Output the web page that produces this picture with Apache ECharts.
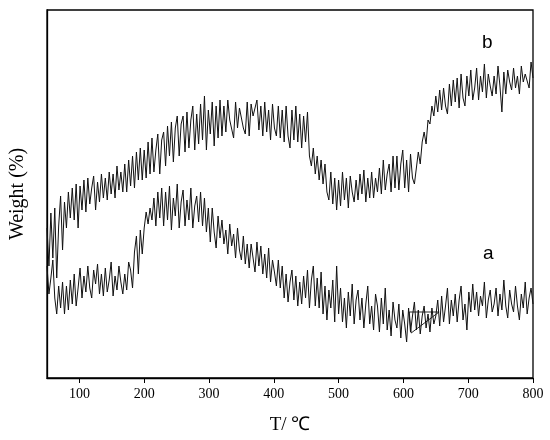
<!DOCTYPE html>
<html><head><meta charset="utf-8">
<script src="https://cdn.jsdelivr.net/npm/echarts@6/dist/echarts.min.js"></script>
<style>html,body{margin:0;padding:0;background:#fff}#c{width:550px;height:440px}</style>
</head><body><div id="c"></div>
<script>
// Temperature grid (°C): first value and spacing of the sampled readings
var T_START = 50, T_STEP = 3;
// Curve b (upper), relative weight readings
var seriesB = [
150,112,165,120,170,100,152,182,128,176,
150,186,160,190,158,194,150,192,168,198,
166,200,174,190,202,168,196,176,204,180,
200,178,206,184,204,180,212,188,206,186,
214,186,218,192,222,190,226,198,230,198,
228,200,236,204,240,206,228,244,204,238,
246,212,252,222,256,216,250,262,222,254,
262,226,266,230,258,272,228,264,234,274,
238,282,228,268,244,276,232,272,240,278,
242,272,246,278,258,258,240,276,250,270,
268,250,244,276,242,274,262,262,278,248,
272,242,276,246,268,238,274,250,242,272,
240,268,236,272,242,230,268,238,272,236,
264,230,262,236,266,222,212,230,204,222,
198,218,194,214,186,178,206,174,200,168,
198,172,206,178,200,170,202,186,176,198,
178,204,184,208,176,200,180,206,180,200,
186,210,184,218,188,204,214,186,222,190,
222,188,214,228,190,218,186,224,200,194,
210,226,214,236,246,234,258,254,272,262,
282,266,288,268,290,272,264,294,272,298,
276,300,270,304,280,272,302,282,308,278,
290,310,278,302,286,314,280,304,292,282,
302,284,312,292,266,306,284,308,296,288,
310,290,302,284,312,296,304,306,290,316,
300];
// Curve a (lower)
var seriesA = [
112,84,100,118,80,64,92,70,96,64,
92,68,98,74,104,72,90,110,80,102,
86,112,90,80,108,94,114,84,104,82,
110,86,98,116,82,102,88,112,96,84,
104,88,116,108,90,126,142,104,148,124,
150,166,154,170,158,180,152,186,160,190,
152,186,158,192,148,180,162,194,150,176,
188,152,178,158,190,150,172,182,156,186,
152,180,146,170,136,170,146,130,162,140,
158,134,148,124,154,132,144,120,150,128,
118,142,114,134,110,134,120,106,136,112,
132,104,124,100,130,96,118,106,92,118,
90,112,80,104,76,96,108,78,102,72,
96,74,102,80,108,70,98,112,72,100,
70,106,64,92,58,88,70,98,56,112,
64,90,56,80,50,86,62,94,54,78,
88,58,80,50,74,92,54,72,48,84,
72,46,80,54,90,48,68,42,76,58,
50,74,40,68,54,36,70,46,62,76,
48,68,44,62,72,50,64,46,70,54,
62,78,52,82,56,72,90,54,78,62,
84,56,78,92,58,74,48,86,66,94,
68,86,62,82,72,96,60,78,88,66,
74,90,62,84,68,98,72,60,88,74,
66,92,72,58,84,70,96,64,80,90,
74];
// Small triangular mark on curve a near 610-655 °C
var markT = [609, 655, 612, 609];
var markW = [66, 66, 45, 66];
var xTicks = [100,200,300,400,500,600,700,800];

function pairs(vals){
  var out = [];
  for (var i = 0; i < vals.length; i++) out.push([T_START + i*T_STEP, vals[i]]);
  return out;
}
var markData = markT.map(function(t,i){return [t, markW[i]];});

var chart = echarts.init(document.getElementById('c'), null, {renderer:'canvas'});
var lineStyle = {color:'#111', width:1};
chart.setOption({
  animation:false,
  backgroundColor:'#fff',
  grid:{left:44, right:17, top:10, bottom:62, show:true, borderColor:'#000', borderWidth:1.3},
  xAxis:{type:'value', min:50, max:800, interval:50,
    axisLine:{show:true, lineStyle:{color:'#000', width:1.3}},
    axisTick:{show:true, inside:false, length:5, lineStyle:{color:'#000'},
      customValues: xTicks},
    axisLabel:{color:'#000', fontFamily:'Liberation Serif', fontSize:14, margin:9,
      customValues: xTicks},
    splitLine:{show:false},
    name:'T/ ℃', nameLocation:'middle', nameGap:38,
    nameTextStyle:{color:'#000', fontFamily:'Liberation Serif', fontSize:19}
  },
  yAxis:{type:'value', min:0, max:368,
    axisLine:{show:true, lineStyle:{color:'#000', width:1.3}},
    axisTick:{show:false}, axisLabel:{show:false}, splitLine:{show:false},
    name:'Weight (%)', nameLocation:'middle', nameGap:19, nameRotate:90,
    nameTextStyle:{color:'#000', fontFamily:'Liberation Serif', fontSize:20}
  },
  series:[
    {type:'line', data:pairs(seriesB), showSymbol:false, lineStyle:lineStyle},
    {type:'line', data:pairs(seriesA), showSymbol:false, lineStyle:lineStyle},
    {type:'line', data:markData, showSymbol:false, lineStyle:{color:'#111', width:0.9}}
  ],
  graphic:[
    {type:'text', left:482, top:33, style:{text:'b', font:'19px "Liberation Sans"', fill:'#000'}},
    {type:'text', left:483, top:244, style:{text:'a', font:'19px "Liberation Sans"', fill:'#000'}}
  ]
});
</script></body></html>
